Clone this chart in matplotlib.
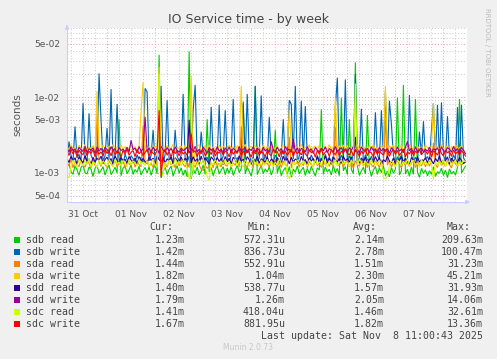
import numpy as np
import matplotlib
matplotlib.use('Agg')
import matplotlib.pyplot as plt
import matplotlib.dates as mdates
from matplotlib.ticker import LogLocator, FuncFormatter, NullFormatter
from matplotlib.patches import Rectangle

# hourly service times, in units of 10 microseconds
sdb_read = """
122 131 104 96 125 110 93 118 128 101 97 120 112 90 115 126 99 108 121 94
113 127 95 105 119 100 510 92 116 124 98 109 129 96 111 102 123 94 107 118
100 121 93 114 126 97 3600 86 104 119 95 112 123 91 108 125 99 117 93 110
89 4000 84 115 98 120 94 106 127 96 510 103 118 92 111 124 97 109 121 95
116 99 123 93 108 126 101 114 800 97 119 105 91 122 1400 95 110 124 98 113
103 120 94 111 370 99 125 92 107 118 96 121 88 113 102 124 97 109 119 93
115 98 122 105 91 117 109 690 96 120 103 112 94 126 100 115 92 980 107 121
95 510 111 98 2860 123 93 106 119 97 580 114 90 109 122 96 117 101 124 92
106 89 118 99 113 980 94 108 1440 97 112 91 120 96 940 103 88 115 99 110
92 107 96 121 90 104 99 116 93 109 87 113 97 105 94 118 940 100 111 123
"""
sdb_write = """
148 260 171 139 410 158 176 143 830 165 137 610 170 149 135 174 2050 500 141 168
390 153 1270 136 172 810 145 162 133 177 150 140 169 155 138 174 146 160 135 1300
1170 144 171 370 139 163 150 1400 136 175 910 147 158 134 370 168 143 172 1100 152
138 166 145 670 1440 157 135 350 170 148 161 137 740 173 144 155 790 140 167 670
151 136 174 940 142 160 134 169 870 147 1100 176 139 163 1400 145 156 1050 138 171
143 550 159 137 172 150 135 166 510 141 175 910 800 153 1400 139 168 890 146 760
164 138 173 149 136 170 144 158 133 176 147 161 139 167 720 1800 142 171 152 1700
137 168 145 174 2000 140 159 700 135 172 150 143 166 138 630 175 147 670 157 1200
141 890 440 170 136 163 148 174 139 157 134 1060 169 146 160 137 350 172 480 151
165 140 360 830 154 790 137 850 171 145 560 162 138 174 149 740 136 790 158 142
"""
sda_read = """
138 124 149 117 142 130 121 151 128 119 145 134 116 147 125 600 140 122 150 129
118 146 131 123 152 120 137 127 148 116 141 133 124 150 119 144 129 121 420 136
147 122 135 118 151 126 900 114 143 130 120 149 127 138 117 146 124 152 131 121
140 118 300 133 119 145 128 112 108 126 115 121 139 117 148 125 134 120 150 128
123 149 118 137 126 151 120 410 145 129 117 142 133 121 150 124 138 116 147 131
135 119 146 127 152 122 139 118 144 130 123 300 116 148 128 141 120 136 125 150
117 143 129 121 149 125 134 118 151 127 140 122 146 119 400 132 124 150 120 138
148 121 136 116 145 130 123 151 126 139 118 147 128 120 144 133 117 149 124 500
127 146 119 138 122 150 131 117 143 125 148 121 135 152 118 141 129 124 146 120
139 123 147 250 130 118 151 126 137 121 145 128 116 149 132 122 140 127 135 144
"""
sda_write = """
225 198 236 205 219 191 232 210 202 238 196 221 208 230 193 1200 216 199 234 207
190 227 213 238 201 219 194 233 206 224 189 215 237 203 222 197 229 640 1560 211
235 199 217 192 228 208 2500 120 224 196 231 205 214 239 191 220 209 226 198 233
204 229 1940 104 200 218 236 193 212 227 202 235 197 221 210 190 232 206 225 214
196 234 209 222 191 230 203 1400 217 238 199 213 226 194 231 207 220 192 237 201
223 205 232 195 216 228 190 211 235 200 226 670 219 193 230 208 215 239 197 221
209 236 194 218 227 202 233 191 213 225 198 237 206 220 980 196 229 210 234 203
231 192 224 208 215 237 199 226 204 221 193 230 212 235 201 218 195 228 207 1400
197 228 213 236 200 219 207 232 194 223 211 238 203 216 190 229 205 221 198 234
218 202 233 830 210 225 196 237 206 214 229 191 222 208 235 200 217 227 193 182
"""
sdd_read = """
156 137 166 142 159 131 163 148 135 169 144 153 130 161 139 157 146 167 133 150
162 141 155 129 168 147 136 160 143 152 134 165 149 138 158 131 164 145 155 140
133 163 146 157 130 168 150 139 161 135 154 144 166 132 159 147 137 162 141 156
148 500 135 164 143 153 131 167 138 158 145 130 163 151 136 160 142 155 129 165
140 157 132 161 147 135 169 143 152 137 164 149 131 158 142 166 134 154 146 139
163 134 152 145 129 159 148 136 167 141 156 132 161 139 153 146 135 165 143 150
131 160 144 155 138 164 133 151 142 168 137 157 130 162 148 140 156 134 166 145
154 139 163 130 300 147 135 158 144 161 132 153 149 137 165 142 159 131 150 141
167 143 136 157 131 152 146 163 138 155 142 129 160 148 134 164 139 151 145 158
136 161 147 132 156 141 168 135 150 144 163 130 157 143 152 138 160 146 133 140
"""
sdd_write = """
212 188 221 196 207 183 218 201 192 224 186 209 199 215 180 220 194 211 189 217
203 185 222 195 210 181 216 198 206 190 219 187 270 202 213 184 223 193 208 550
191 214 186 220 197 208 182 225 200 189 217 195 211 184 221 199 187 213 196 206
218 183 209 194 224 190 205 187 219 201 182 216 198 210 186 222 193 207 180 214
196 220 185 211 199 188 223 192 205 216 184 209 197 221 189 213 200 183 218 194
207 186 260 202 191 219 195 210 182 224 198 206 187 280 193 214 185 211 203 190
222 194 208 181 217 200 189 213 196 220 185 210 199 191 223 188 205 215 183 209
187 216 198 224 190 206 182 219 201 193 212 186 220 197 208 184 217 195 211 192
210 181 215 199 188 221 194 207 185 218 260 196 212 183 222 190 203 214 189 206
193 219 186 208 200 214 183 221 197 190 216 205 188 224 195 209 181 217 199 179
"""
sdc_read = """
92 86 125 148 131 119 152 138 124 146 129 155 121 141 133 118 150 127 143 135
122 149 136 119 153 130 140 124 147 134 120 151 128 144 137 123 154 131 139 126
145 121 138 152 127 118 2000 90 99 139 126 148 132 120 155 129 143 124 150 135
119 83 88 141 133 124 147 130 153 122 90 80 140 127 149 136 121 144 131 152
128 143 120 137 154 125 146 132 119 150 134 123 141 156 129 138 122 148 135 126
151 130 144 121 139 127 153 133 124 147 92 85 95 142 129 150 137 122 146 131
124 148 135 120 152 129 141 126 155 132 119 145 137 128 150 123 139 147 130 143
136 122 149 131 1500 126 153 139 121 144 133 127 151 130 140 124 148 135 88 84
90 128 146 134 121 150 137 125 143 131 154 122 139 147 127 135 119 152 130 141
125 149 133 82 140 126 144 130 153 121 138 147 128 135 150 123 141 132 146 141
"""
sdc_write = """
192 170 205 178 198 165 201 183 174 208 169 195 181 203 163 199 176 190 167 206
180 196 168 207 173 194 185 162 200 177 209 171 188 197 164 204 179 193 170 186
202 166 195 182 174 199 670 88 185 206 172 191 161 203 180 194 168 200 177 189
171 207 330 186 197 164 193 179 205 169 184 198 175 208 166 190 182 201 172 195
187 163 204 176 193 181 209 167 196 174 200 185 162 199 178 206 170 191 183 165
198 179 169 207 184 192 163 201 176 195 171 188 205 166 197 180 190 173 203 178
167 202 185 194 161 199 177 208 172 189 196 164 203 182 175 200 169 192 186 206
181 173 197 168 205 187 165 194 179 209 170 191 184 163 201 176 196 182 172 204
194 166 189 203 175 198 171 185 207 162 190 178 200 169 193 183 204 174 188 197
176 201 163 195 186 172 206 181 168 199 184 193 165 202 179 190 173 198 183 167
"""

labels = ['sdb read', 'sdb write', 'sda read', 'sda write',
          'sdd read', 'sdd write', 'sdc read', 'sdc write']
colors = ['#00CC00', '#0066B3', '#FF8000', '#FFCC00',
          '#330099', '#990099', '#CCFF00', '#FF0000']
raw = [sdb_read, sdb_write, sda_read, sda_write,
       sdd_read, sdd_write, sdc_read, sdc_write]
cur = ['1.23m', '1.42m', '1.44m', '1.82m', '1.40m', '1.79m', '1.41m', '1.67m']
mins = ['572.31u', '836.73u', '552.91u', '1.04m', '538.77u', '1.26m', '418.04u', '881.95u']
avgs = ['2.14m', '2.78m', '1.51m', '2.30m', '1.57m', '2.05m', '1.46m', '1.82m']
maxs = ['209.63m', '100.47m', '31.23m', '45.21m', '31.93m', '14.06m', '32.61m', '13.36m']

t0 = np.datetime64('2025-10-31T04:00')
times = t0 + np.arange(200) * np.timedelta64(1, 'h')

W, H = 497, 359
fig = plt.figure(figsize=(W / 100, H / 100), dpi=100, facecolor='#F0F0F0')
ax = fig.add_axes([67 / W, 1 - 202 / H, 400 / W, 174 / H])
ax.set_facecolor('white')

for s, c in zip(raw, colors):
    vals = np.array(s.split(), float) * 1e-5
    ax.plot(times, vals, color=c, lw=0.8, solid_joinstyle='miter')

ax.set_yscale('log')
ax.set_ylim(4.15e-4, 8.1e-2)
ax.set_xlim(t0, np.datetime64('2025-11-08T11:45'))

ax.yaxis.set_major_locator(LogLocator(base=10, subs=[1.0, 5.0]))
ax.yaxis.set_minor_locator(LogLocator(base=10, subs=[2, 3, 4, 6, 7, 8, 9]))
ax.yaxis.set_major_formatter(FuncFormatter(lambda v, p: '{:.0e}'.format(v)))
ax.yaxis.set_minor_formatter(NullFormatter())

ax.xaxis.set_major_locator(mdates.DayLocator())
ax.xaxis.set_major_formatter(NullFormatter())
ax.xaxis.set_minor_locator(mdates.HourLocator(byhour=[6, 12, 18]))
def day_label(v, p):
    d = mdates.num2date(v)
    return d.strftime('%d %b') if d.hour == 12 else ''
ax.xaxis.set_minor_formatter(FuncFormatter(day_label))

ax.grid(which='major', color='#E8A0A0', ls=(0, (1, 2)), lw=0.7)
ax.grid(which='minor', color='#C8C8C8', ls=(0, (1, 2)), lw=0.7)
ax.tick_params(which='both', length=0, colors='#555555', labelsize=6.5)
ax.tick_params(axis='x', which='minor', pad=6)
ax.tick_params(axis='y', pad=5)

for sp in ['top', 'right']:
    ax.spines[sp].set_visible(False)
for sp in ['left', 'bottom']:
    ax.spines[sp].set_color('#CCCCFF')
    ax.spines[sp].set_linewidth(0.8)
# axis arrows
ax.annotate('', xy=(0, 1.035), xytext=(0, 0.99), xycoords='axes fraction',
            arrowprops=dict(arrowstyle='-|>', color='#CCCCFF', lw=0.8, mutation_scale=6))
ax.annotate('', xy=(1.015, 0), xytext=(0.99, 0), xycoords='axes fraction',
            arrowprops=dict(arrowstyle='-|>', color='#CCCCFF', lw=0.8, mutation_scale=6))

ax.set_ylabel('seconds', color='#555555', fontsize=7.5, labelpad=8)

fig.text(248 / W, 1 - 19 / H, 'IO Service time - by week', ha='center', va='center',
         color='#444444', fontsize=9)
fig.text(487 / W, 1 - 8 / H, 'RRDTOOL / TOBI OETIKER', rotation=-90, ha='center', va='top',
         color='#BBBBBB', fontsize=5)

def ftext(x, y, s, **kw):
    fig.text(x / W, 1 - y / H, s, va='center', family='DejaVu Sans Mono',
             fontsize=7.1, color='#444444', **kw)

ftext(149, 227, 'Cur:')
ftext(248, 227, 'Min:')
ftext(353, 227, 'Avg:')
ftext(447, 227, 'Max:')
for i, lab in enumerate(labels):
    y = 240 + i * 11.95
    fig.add_artist(Rectangle((14 / W, 1 - (y + 3) / H), 6 / W, 6 / H,
                             transform=fig.transFigure, color=colors[i], lw=0))
    ftext(26, y, lab)
    ftext(185, y, cur[i], ha='right')
    ftext(285, y, mins[i], ha='right')
    ftext(384, y, avgs[i], ha='right')
    ftext(483, y, maxs[i], ha='right')
ftext(483, 335.7, 'Last update: Sat Nov  8 11:00:43 2025', ha='right')
fig.text(248 / W, 1 - 348 / H, 'Munin 2.0.73', ha='center', va='center',
         color='#C8C8C8', fontsize=5.5)

fig.savefig('out.png', dpi=100, facecolor=fig.get_facecolor())
